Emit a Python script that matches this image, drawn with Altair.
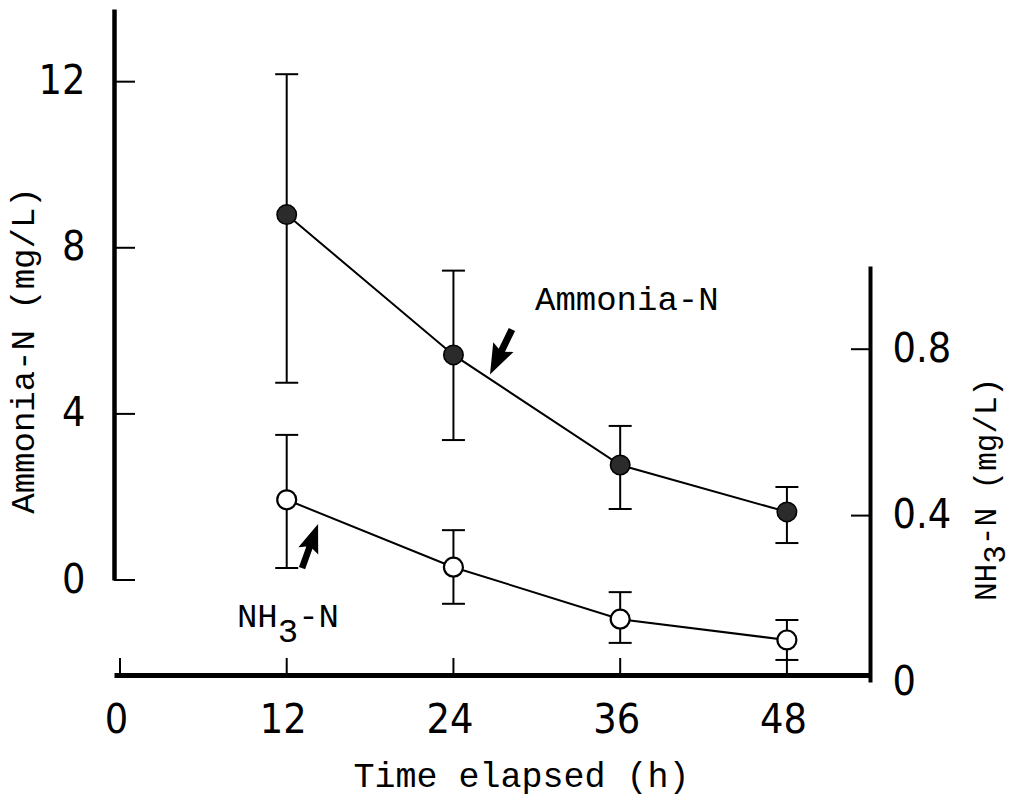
import altair as alt
import pandas as pd

# Sampling times (h)
hours = [12, 24, 36, 48]

# Ammonia-N (mg/L), left axis: mean and error-bar limits
ammonia = [8.8, 5.42, 2.77, 1.64]
ammonia_lo = [4.75, 3.37, 1.71, 0.89]
ammonia_hi = [12.18, 7.45, 3.71, 2.24]

# NH3-N (mg/L), right axis: mean and error-bar limits
nh3 = [0.438, 0.276, 0.151, 0.101]
nh3_lo = [0.274, 0.188, 0.094, 0.053]
nh3_hi = [0.594, 0.365, 0.216, 0.149]

# Tick values
x_ticks = [0, 12, 24, 36, 48]
left_ticks = [0, 4, 8, 12]
right_tick_marks = [0.4, 0.8]
right_tick_labels = [0, 0.4, 0.8]

# Annotation text and anchors (data units)
amm_label = ["Ammonia-N"]
amm_label_at = [29.87, 6.74]          # x (h), y (left scale)
nh3_label = ["NH", "3", "-N"]
nh3_label_at = [8.42, 0.156]          # x (h), y (right scale)
amm_arrow_at = [27.42, 5.49]          # left scale
nh3_arrow_at = [13.68, 0.327]         # right scale
right_title = ["NH", "3", "-N (mg/L)"]

NUM_FONT = "Liberation Sans Narrow, DejaVu Sans Condensed, Liberation Sans"
TXT_FONT = "Liberation Mono"

W, H = 756, 675
PAD = {"left": 114, "top": 0, "right": 145, "bottom": 123}

df = pd.DataFrame({
    "h": hours,
    "amm": ammonia, "amm_lo": ammonia_lo, "amm_hi": ammonia_hi,
    "nh3": nh3, "nh3_lo": nh3_lo, "nh3_hi": nh3_hi,
})

x_scale = alt.Scale(domain=[-0.43, 53.98], range=[0, W], nice=False, zero=False)
yl_scale = alt.Scale(domain=[0, 13.75], range=[580, 9], nice=False, zero=False)
yr_scale = alt.Scale(domain=[0, 1.0], range=[682, 266], nice=False, zero=False)

x_axis = alt.Axis(
    values=x_ticks, ticks=False, grid=False,
    domainColor="black", domainWidth=5,
    labelFont=NUM_FONT, labelFontSize=41, labelColor="black",
    labelPadding=25, labelFlush=False, labelOverlap=False, format="d",
    labelOffset=-4,
    title="Time elapsed (h)", titleFont=TXT_FONT, titleFontSize=35,
    titleFontWeight="normal", titleColor="black",
    titleX=407, titleY=100, titleAlign="center", titleBaseline="middle",
)
yl_axis = alt.Axis(
    orient="left", values=left_ticks, ticks=False, grid=False,
    domainColor="black", domainWidth=4.5,
    labelFont=NUM_FONT, labelFontSize=41, labelColor="black",
    labelPadding=29, labelFlush=False, labelOverlap=False, format="d",
    title="Ammonia-N (mg/L)", titleFont=TXT_FONT, titleFontSize=34,
    titleFontWeight="normal", titleColor="black",
    titleX=-91, titleY=350, titleAngle=270,
    titleAlign="center", titleBaseline="middle",
)
yr_axis = alt.Axis(
    orient="right", values=right_tick_labels, ticks=False, grid=False,
    domainColor="black", domainWidth=4,
    labelFont=NUM_FONT, labelFontSize=41, labelColor="black",
    labelPadding=22, labelFlush=False, labelOverlap=False,
    labelExpr="datum.value == 0 ? '0' : format(datum.value, '.1f')",
    title="",
)


def X(field):
    return alt.X(field, type="quantitative", scale=x_scale, axis=x_axis)


def YL(field):
    return alt.Y(field, type="quantitative", scale=yl_scale, axis=yl_axis)


def YR(field):
    return alt.Y(field, type="quantitative", scale=yr_scale, axis=yr_axis)


# Arrow glyph pointing up, in the -1..1 symbol box
ARROW = "M0,-1 L0.45,0.22 L0.14,0.08 L0.14,1 L-0.14,1 L-0.14,0.08 L-0.45,0.22 Z"

base = alt.Chart(df)

# ---- Ammonia-N (left axis) ----
amm_line = base.mark_line(color="black", strokeWidth=2).encode(x=X("h"), y=YL("amm"))
amm_err = base.mark_rule(color="black", strokeWidth=2).encode(
    x=X("h"), y=YL("amm_lo"), y2=alt.Y2("amm_hi"))
amm_cap_lo = base.mark_tick(orient="horizontal", size=23, thickness=2, color="black",
                            opacity=1).encode(x=X("h"), y=YL("amm_lo"))
amm_cap_hi = base.mark_tick(orient="horizontal", size=23, thickness=2, color="black",
                            opacity=1).encode(x=X("h"), y=YL("amm_hi"))
amm_pts = base.mark_circle(size=380, color="#2b2b2b", stroke="black", strokeWidth=1.5,
                           opacity=1).encode(x=X("h"), y=YL("amm"))

lt_df = pd.DataFrame({"v": left_ticks})
lt_rules = alt.Chart(lt_df).mark_rule(color="black", strokeWidth=2).encode(
    y=YL("v"), x=alt.value(0), x2=alt.value(21))

xt_df = pd.DataFrame({"v": x_ticks})
xt_rules = alt.Chart(xt_df).mark_rule(color="black", strokeWidth=2).encode(
    x=X("v"), y=alt.value(H - 17), y2=alt.value(H))

amm_txt_df = pd.DataFrame({"x": [amm_label_at[0]], "y": [amm_label_at[1]], "t": amm_label})
amm_txt = alt.Chart(amm_txt_df).mark_text(
    font=TXT_FONT, fontSize=34, align="left", baseline="middle", color="black"
).encode(x=X("x"), y=YL("y"), text="t:N")

amm_arrow_df = pd.DataFrame({"x": [amm_arrow_at[0]], "y": [amm_arrow_at[1]]})
amm_arrow = alt.Chart(amm_arrow_df).mark_point(
    shape=ARROW, filled=True, color="black", size=2500, angle=206, opacity=1
).encode(x=X("x"), y=YL("y"))

left = alt.layer(amm_line, amm_err, amm_cap_lo, amm_cap_hi, amm_pts,
                 lt_rules, xt_rules, amm_txt, amm_arrow)

# ---- NH3-N (right axis) ----
nh_line = base.mark_line(color="black", strokeWidth=2).encode(x=X("h"), y=YR("nh3"))
nh_err = base.mark_rule(color="black", strokeWidth=2).encode(
    x=X("h"), y=YR("nh3_lo"), y2=alt.Y2("nh3_hi"))
nh_cap_lo = base.mark_tick(orient="horizontal", size=23, thickness=2, color="black",
                           opacity=1).encode(x=X("h"), y=YR("nh3_lo"))
nh_cap_hi = base.mark_tick(orient="horizontal", size=23, thickness=2, color="black",
                           opacity=1).encode(x=X("h"), y=YR("nh3_hi"))
nh_pts = base.mark_circle(size=360, fill="white", stroke="black", strokeWidth=2.2,
                          opacity=1).encode(x=X("h"), y=YR("nh3"))

rt_df = pd.DataFrame({"v": right_tick_marks})
rt_rules = alt.Chart(rt_df).mark_rule(color="black", strokeWidth=2).encode(
    y=YR("v"), x=alt.value(W - 19), x2=alt.value(W))

nh_txt_df = pd.DataFrame({"x": [nh3_label_at[0]], "y": [nh3_label_at[1]],
                          "a": [nh3_label[0]], "b": [nh3_label[1]], "c": [nh3_label[2]]})
nh_txt_kw = dict(font=TXT_FONT, fontSize=34, align="left", baseline="middle", color="black")
nh_txt_a = alt.Chart(nh_txt_df).mark_text(**nh_txt_kw).encode(
    x=X("x"), y=YR("y"), text="a:N")
nh_txt_b = alt.Chart(nh_txt_df).mark_text(dx=40.8, dy=15, **nh_txt_kw).encode(
    x=X("x"), y=YR("y"), text="b:N")
nh_txt_c = alt.Chart(nh_txt_df).mark_text(dx=61.2, **nh_txt_kw).encode(
    x=X("x"), y=YR("y"), text="c:N")

nh_arrow_df = pd.DataFrame({"x": [nh3_arrow_at[0]], "y": [nh3_arrow_at[1]]})
nh_arrow = alt.Chart(nh_arrow_df).mark_point(
    shape=ARROW, filled=True, color="black", size=2200, angle=20, opacity=1
).encode(x=X("x"), y=YR("y"))

# Right-axis title with a lowered "3"
rt_title_df = pd.DataFrame({"a": [right_title[0]], "b": [right_title[1]], "c": [right_title[2]]})
rt_kw = dict(font=TXT_FONT, fontSize=31, align="left", baseline="middle",
             color="black", angle=270)
RT_X, RT_Y = W + 117, 601
rt_title_a = alt.Chart(rt_title_df).mark_text(**rt_kw).encode(
    x=alt.value(RT_X), y=alt.value(RT_Y), text="a:N")
rt_title_b = alt.Chart(rt_title_df).mark_text(dx=37.2, dy=9, **rt_kw).encode(
    x=alt.value(RT_X), y=alt.value(RT_Y), text="b:N")
rt_title_c = alt.Chart(rt_title_df).mark_text(dx=55.8, **rt_kw).encode(
    x=alt.value(RT_X), y=alt.value(RT_Y), text="c:N")

right = alt.layer(nh_line, nh_err, nh_cap_lo, nh_cap_hi, nh_pts, rt_rules,
                  nh_txt_a, nh_txt_b, nh_txt_c, nh_arrow,
                  rt_title_a, rt_title_b, rt_title_c)

chart = (
    alt.layer(left, right)
    .resolve_scale(y="independent")
    .properties(width=W, height=H, padding=PAD,
                autosize=alt.AutoSizeParams(type="none"), background="white")
    .configure_view(strokeWidth=0)
)

chart.save("out.html", embed_options={"renderer": "svg", "actions": False})
